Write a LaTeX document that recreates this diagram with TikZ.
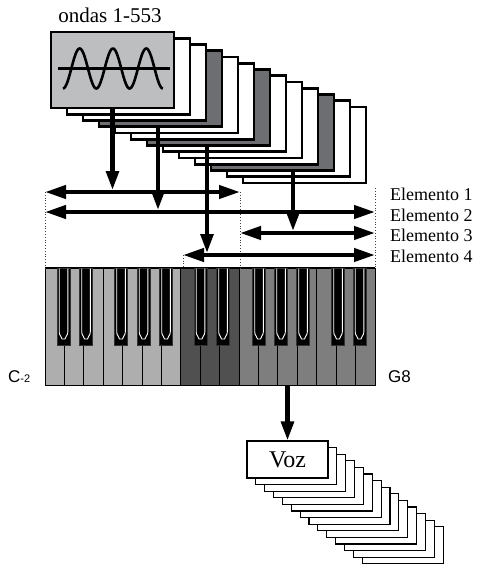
\documentclass[tikz,border=0pt]{standalone}
\usepackage{fontspec}
\setmainfont{Liberation Serif}
\newfontfamily\keyfont{Liberation Sans}
\usetikzlibrary{arrows.meta, calc}
\definecolor{wavefill}{RGB}{188,190,192}
\definecolor{darkcard}{RGB}{109,110,113}
\definecolor{keylight}{RGB}{174,174,174}
\definecolor{keydark}{RGB}{80,80,80}
\definecolor{keymid}{RGB}{126,126,126}
\tikzset{
  card/.style={rectangle, draw=black, line width=2.6pt, fill=white,
               minimum width=123pt, minimum height=76pt, inner sep=0pt},
  vozcard/.style={rectangle, draw=black, line width=1.1pt, fill=white,
                  minimum width=81pt, minimum height=37pt, inner sep=0pt},
  elarr/.style={{Triangle[length=21pt,width=13pt]}-{Triangle[length=21pt,width=13pt]}, line width=4.2pt},
  downarr/.style={-{Triangle[length=19pt,width=12.5pt]}, line width=4.2pt},
  guide/.style={dotted, line width=0.8pt, black!75},
  ellabel/.style={anchor=base west, inner sep=0pt, font=\fontsize{18}{20}\selectfont},
  keylabel/.style={anchor=base west, inner sep=0pt, font=\keyfont\fontsize{17}{18}\selectfont},
  whitekey/.style={draw=black, line width=1pt},
  blackkey/.style={fill=black, draw=black!80, line width=0.6pt},
}

\begin{document}
\begin{tikzpicture}[x=1pt, y=-1pt]
\useasboundingbox (0,0) rectangle (479,568);

% ========== Ondas (pila de tarjetas) ==========
\node[anchor=base, inner sep=0pt, font=\fontsize{21}{23}\selectfont] (ondas) at (110,22) {ondas 1-553};

\foreach \k/\col in {12/white, 11/white, 10/darkcard, 9/white, 8/white, 7/white,
                     6/darkcard, 5/white, 4/white, 3/darkcard, 2/white, 1/white}
  \node[card, fill=\col] (card\k) at ({112.5+16*\k},{70+6.25*\k}) {};

\node[card, fill=wavefill] (card0) at (112.5,70) {};
\draw[line width=2.6pt] (58,68.5) -- (170,68.5);
\draw[line width=2.6pt, domain=0:3, samples=120, smooth] plot ({63+33.3*\x},{68.5+20*cos(360*\x)});

% ========== Elementos ==========
\coordinate (e1l) at (45,192);  \coordinate (e1r) at (240,192);
\coordinate (e2l) at (45,212);  \coordinate (e2r) at (375,212);
\coordinate (e3l) at (240,233); \coordinate (e3r) at (375,233);
\coordinate (e4l) at (183,255); \coordinate (e4r) at (375,255);

\node[ellabel] (el1) at (390,200) {Elemento 1};
\node[ellabel] (el2) at (390,221) {Elemento 2};
\node[ellabel] (el3) at (390,241.5) {Elemento 3};
\node[ellabel] (el4) at (390,262.5) {Elemento 4};

% ========== Teclado ==========
\node[minimum width=330pt, minimum height=117pt, inner sep=0pt] (teclado) at (210,326.5) {};

\foreach \k in {0,...,6}
  \draw[whitekey, fill=keylight] ({45+19.4118*\k},268) rectangle ++(19.4118,117);
\foreach \k in {7,8,9}
  \draw[whitekey, fill=keydark] ({45+19.4118*\k},268) rectangle ++(19.4118,117);
\foreach \k in {10,...,16}
  \draw[whitekey, fill=keymid] ({45+19.4118*\k},268) rectangle ++(19.4118,117);

\foreach \bx in {63.5, 86, 121, 143.5, 166, 200.5, 223, 259, 281, 303, 338, 359.5} {
  \draw[blackkey] (\bx-6.5,268) rectangle (\bx+6.5,345);
  \draw[white, line width=0.9pt, line join=round]
    (\bx-4.3,268.5) -- (\bx-4.3,332) .. controls (\bx-4.3,336) and (\bx-1.5,336) .. (\bx-1.5,339)
    -- (\bx+1.5,339) .. controls (\bx+1.5,336) and (\bx+4.3,336) .. (\bx+4.3,332) -- (\bx+4.3,268.5);
}
\draw[black, line width=1.2pt] (teclado.north west) -- (teclado.north east);

\node[keylabel] (cmin) at (8,382) {C\fontsize{11}{12}\selectfont-2};
\node[keylabel] (gmax) at (388,382) {G8};

% ========== Guias punteadas ==========
\draw[guide] (e1l) -- (e1l |- teclado.north);
\draw[guide] (e1r) -- (e1r |- teclado.north);
\draw[guide] ($(e2r)+(0,-24)$) -- (e2r |- teclado.north);
\draw[guide] (e4l) -- (e4l |- teclado.north);

% ========== Flechas ==========
\draw[elarr] (e1l) -- (e1r);
\draw[elarr] (e2l) -- (e2r);
\draw[elarr] (e3l) -- (e3r);
\draw[elarr] (e4l) -- (e4r);

\draw[downarr, shorten >=2pt] (card0.south) -- (card0.south |- e1l);
\draw[downarr, shorten >=2pt] ($(card3.south)+(-2.5,0)$) -- ($(card3.south |- e2l)+(-2.5,0)$);
\draw[downarr, shorten >=2pt] ($(card6.south)+(-1.5,0)$) -- ($(card6.south |- e4l)+(-1.5,0)$);
\draw[downarr, shorten >=2pt] ($(card10.south)+(20.5,0)$) -- ($(card10.south |- e3l)+(20.5,0)$);

% ========== Voz ==========
\foreach \k in {13,12,...,1}
  \node[vozcard] (voz\k) at ({287.5+8.85*\k},{459.5+6.6*\k}) {};
\node[vozcard, font=\fontsize{24}{26}\selectfont] (voz) at (287.5,459.5) {Voz};

\draw[downarr] (teclado.south -| voz.north) -- (voz.north);

\end{tikzpicture}
\end{document}
